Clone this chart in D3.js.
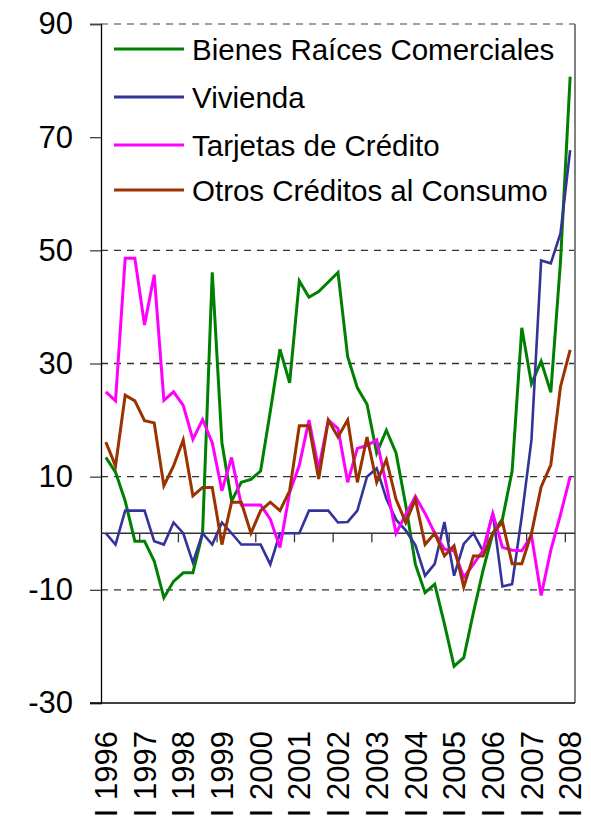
<!DOCTYPE html>
<html>
<head>
<meta charset="utf-8">
<script src="https://cdn.jsdelivr.net/npm/d3@7"></script>
<style>
  html, body { margin: 0; padding: 0; background: #fff; }
  svg { display: block; }
</style>
</head>
<body>
<svg id="chart" width="591" height="827"></svg>
<script>
// ---- data ----
const years = [1996,1997,1998,1999,2000,2001,2002,2003,2004,2005,2006,2007,2008];
const quarters = ["I","II","III","IV"];
const categories = [];
years.forEach(yr => quarters.forEach(q => { if (!(yr === 2008 && q !== "I")) categories.push(q + " " + yr); }));
const seriesNames = ["Bienes Raíces Comerciales", "Vivienda", "Tarjetas de Crédito", "Otros Créditos al Consumo"];
const seriesColors = ["#008000", "#333399", "#FF00FF", "#993300"];
const bienesRaices = [13.4,10.8,5.7,-1.4,-1.4,-4.9,-11.4,-8.5,-7,-7,0,46.1,16,5.7,9,9.5,11,21.5,32.5,26.6,44.6,41.7,42.7,44.4,46.1,31.2,25.7,22.8,14.2,18.2,14.2,5,-5.5,-10.5,-9,-16,-23.5,-22,-14,-6.5,0,2.5,11,36.3,26.4,30.4,24.9,48,80.7];
const vivienda = [0,-2,4,4,4,-1.4,-2,1.9,0,-5.2,0,-2,1.9,0,-2,-2,-2,-5.5,0,0,0,4,4,4,1.9,2,4,10,11.5,6.1,2.4,0.5,-2.1,-7.5,-5.4,2,-7.5,-1.9,0,-3.2,3.5,-9.4,-9,3,16.5,48.2,47.7,53,67.7];
const tarjetas = [25,23.4,48.6,48.6,36.8,45.7,23.5,25,22.6,16.6,20.1,16,7.5,13.4,5,5,5,2.5,-2.5,7.2,12,20,11.4,20,18.5,9,15,15.5,16.5,8.5,0,3.3,6.5,3.5,0,-2.8,-3.1,-7.8,-5.5,-3,3.5,-2.5,-3,-3.1,-0.4,-11,-3,3.3,10];
const otros = [16.1,11.9,24.4,23.4,19.9,19.5,8.4,11.9,16.5,6.6,8.1,8.1,-2,5.5,5.5,0,4,5.5,4,7.5,19,19,9.6,20,17,20,9,17,9,13,6,1.9,6,-2,0,-4,-2.2,-9.5,-4,-4,0,2,-5.4,-5.4,0,8.2,12.1,25.9,32.4];
const yTicks = [-30,-10,10,30,50,70,90];
const yGrid = [-10,10,30,50,70,90];
const xLabels = years.map(yr => "I " + yr);

const series = [bienesRaices, vivienda, tarjetas, otros];

(function () {
  // ---- layout ----
  const pLeft = 101, pRight = 575, pTop = 24, pBottom = 703;
  const font = "'Liberation Sans', Arial, Helvetica, sans-serif";
  const svg = d3.select("#chart");

  const x = d3.scaleBand().domain(d3.range(categories.length)).range([pLeft, pRight]).padding(0);
  const bw = x.bandwidth();
  const xc = i => x(i) + bw / 2;
  const y = d3.scaleLinear().domain([-30, 90]).range([pBottom, pTop]);

  // gridlines (dashed)
  svg.append("g").selectAll("line").data(yGrid).join("line")
    .attr("x1", pLeft).attr("x2", pRight)
    .attr("y1", d => y(d)).attr("y2", d => y(d))
    .attr("stroke", d => d === 90 ? "#808080" : "#333")
    .attr("stroke-width", 1.3)
    .attr("stroke-dasharray", "7,6");

  // legend background (hides gridline behind legend)
  svg.append("rect").attr("x", pLeft + 1).attr("y", 28).attr("width", pRight - pLeft - 2).attr("height", 192).attr("fill", "#fff");

  // right border
  svg.append("line").attr("x1", pRight).attr("x2", pRight).attr("y1", pTop).attr("y2", pBottom)
    .attr("stroke", "#808080").attr("stroke-width", 2);

  // y axis
  const yAxis = d3.axisLeft(y).tickValues(yTicks).tickSize(11).tickPadding(17).tickFormat(d => String(d));
  const gy = svg.append("g").attr("transform", `translate(${pLeft},0)`).call(yAxis);
  gy.select(".domain").attr("stroke", "#000").attr("stroke-width", 1.3);
  gy.selectAll(".tick line").attr("stroke", "#444").attr("stroke-width", 1.3);
  gy.selectAll(".tick text").attr("font-family", font).attr("font-size", 31).attr("fill", "#000");

  // bottom line at -30
  svg.append("line").attr("x1", 90).attr("x2", pRight).attr("y1", y(-30)).attr("y2", y(-30))
    .attr("stroke", "#000").attr("stroke-width", 1.3);

  // zero line with year ticks
  const zeroTicks = d3.range(4, categories.length, 4);
  svg.append("line").attr("x1", pLeft).attr("x2", pRight).attr("y1", y(0)).attr("y2", y(0))
    .attr("stroke", "#333").attr("stroke-width", 1.5);
  svg.append("g").selectAll("line").data(zeroTicks).join("line")
    .attr("x1", d => x(d)).attr("x2", d => x(d))
    .attr("y1", y(0)).attr("y2", y(0) + 9)
    .attr("stroke", "#333").attr("stroke-width", 1.3);

  // x labels
  svg.append("g").selectAll("text").data(xLabels).join("text")
    .attr("transform", (d, k) => `translate(${xc(k * 4)},731) rotate(-90)`)
    .attr("text-anchor", "end")
    .attr("dy", "0.36em")
    .attr("font-family", font).attr("font-size", 31).attr("fill", "#000")
    .text(d => d);

  // series
  const line = d3.line().x((d, i) => xc(i)).y(d => y(d));
  svg.append("g").selectAll("path").data(series).join("path")
    .attr("d", d => line(d))
    .attr("fill", "none")
    .attr("stroke", (d, i) => seriesColors[i])
    .attr("stroke-width", (d, i) => i === 1 ? 2.6 : 3)
    .attr("stroke-linejoin", "miter");

  // legend
  const lg = svg.append("g");
  const rowY = [49, 97, 145, 190];
  seriesNames.forEach((name, i) => {
    lg.append("line").attr("x1", 114).attr("x2", 184).attr("y1", rowY[i]).attr("y2", rowY[i])
      .attr("stroke", seriesColors[i]).attr("stroke-width", 3);
    lg.append("text").attr("x", 192).attr("y", rowY[i]).attr("dy", "0.36em")
      .attr("font-family", font).attr("font-size", 29.5).attr("fill", "#000")
      .text(name);
  });
})();
</script>
</body>
</html>
